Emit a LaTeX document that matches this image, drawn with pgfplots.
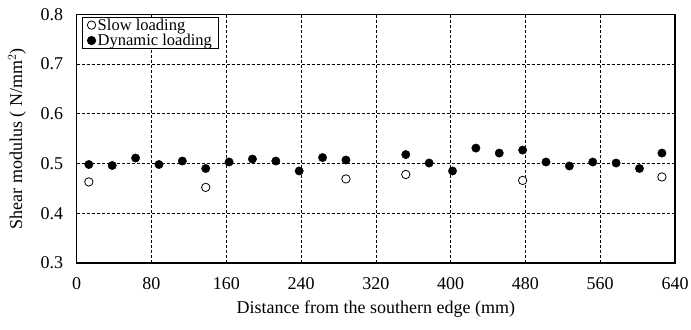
\documentclass[border=0pt]{standalone}
\usepackage{fontspec}
\setmainfont{Liberation Serif}
\usepackage{pgfplots}
\pgfplotsset{compat=1.18}
\newcommand{\ff}{\fontsize{18bp}{20bp}\selectfont}
\newcommand{\fl}{\fontsize{16.5bp}{17bp}\selectfont}
\begin{document}
\begin{tikzpicture}
\begin{axis}[
  scale only axis,
  width=598.3bp, height=248.7bp,
  xmin=0, xmax=640, ymin=0.3, ymax=0.8,
  xtick={0,80,...,640},
  ytick={0.3,0.4,...,0.8},
  yticklabels={0.3,0.4,0.5,0.6,0.7,0.8},
  /pgf/number format/assume math mode=true,
  tick label style={font=\ff},
  label style={font=\ff},
  major tick length=0pt,
  grid=major,
  major grid style={black, line width=0.7bp, dash pattern=on 3bp off 2bp},
  axis line style={black, line width=1.2bp},
  xlabel={Distance from the southern edge (mm)},
  ylabel={Shear modulus ( N/mm$^2$)},
  xlabel style={yshift=-4bp},
  ylabel style={yshift=8bp},
  xticklabel style={yshift=-11bp},
  yticklabel style={xshift=-10bp},
  legend style={at={(rel axis cs:0,1)}, anchor=north west, xshift=5.3bp, yshift=-3bp,
    font=\fl, draw=black, line width=0.7bp, fill=white,
    inner xsep=5bp, inner ysep=0.5bp, row sep=1.5bp,
    nodes={inner ysep=0.5bp},
    /tikz/every even column/.append style={column sep=1bp}},
  legend cell align=left,
  clip=false,
]
\addplot[only marks, mark=*, mark size=4.2bp, mark options={fill=white, draw=black, line width=0.8bp}]
 coordinates {(13,0.463) (138,0.452) (288,0.469) (352,0.478) (477,0.466) (626,0.473)};
\addlegendentry{Slow loading}
\addplot[only marks, mark=*, mark size=4.2bp, mark options={fill=black, draw=black}]
 coordinates {(13,0.498) (38,0.496) (63,0.511) (88,0.498) (113,0.505) (138,0.490)
 (163,0.503) (188,0.509) (213,0.505) (238,0.485) (263,0.512) (288,0.507)
 (352,0.518) (377,0.501) (402,0.485) (427,0.531) (452,0.521) (477,0.527)
 (502,0.503) (527,0.495) (552,0.503) (577,0.501) (602,0.490) (626,0.521)};
\addlegendentry{Dynamic loading}
\coordinate (bl) at (rel axis cs:0,0);
\coordinate (tr) at (rel axis cs:1,1);
\end{axis}
\pgfresetboundingbox
\path ([xshift=-76.7bp,yshift=-67bp]bl) rectangle ([xshift=16bp,yshift=14.3bp]tr);
\end{tikzpicture}
\end{document}
